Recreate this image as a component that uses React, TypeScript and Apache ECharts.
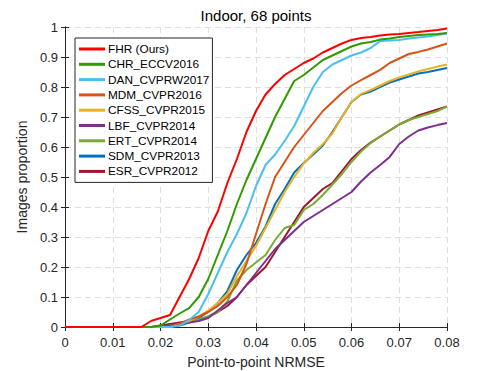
import React, { useEffect, useRef } from "react";
import * as echarts from "echarts";

const xValues = [0, 0.016, 0.018, 0.02, 0.022, 0.024, 0.026, 0.028, 0.03, 0.032, 0.034, 0.036, 0.038, 0.04, 0.042, 0.044, 0.046, 0.048, 0.05, 0.052, 0.054, 0.056, 0.058, 0.06, 0.062, 0.064, 0.066, 0.068, 0.07, 0.072, 0.074, 0.076, 0.078, 0.08];

const fhr = [0, 0, 0.02, 0.03, 0.04, 0.1, 0.16, 0.23, 0.32, 0.385, 0.48, 0.56, 0.65, 0.72, 0.775, 0.81, 0.84, 0.86, 0.88, 0.895, 0.915, 0.93, 0.945, 0.957, 0.963, 0.967, 0.972, 0.975, 0.977, 0.98, 0.983, 0.987, 0.99, 0.995];
const chr = [0, 0, 0, 0.005, 0.025, 0.045, 0.063, 0.1, 0.16, 0.24, 0.32, 0.41, 0.49, 0.56, 0.63, 0.7, 0.76, 0.82, 0.84, 0.865, 0.89, 0.905, 0.92, 0.935, 0.945, 0.95, 0.958, 0.962, 0.967, 0.97, 0.973, 0.975, 0.977, 0.98];
const dan = [0, 0, 0, 0, 0, 0.005, 0.023, 0.05, 0.11, 0.18, 0.25, 0.31, 0.38, 0.47, 0.54, 0.575, 0.62, 0.67, 0.735, 0.8, 0.85, 0.875, 0.89, 0.905, 0.915, 0.93, 0.953, 0.955, 0.957, 0.962, 0.965, 0.968, 0.973, 0.978];
const mdm = [0, 0, 0, 0, 0, 0.01, 0.025, 0.035, 0.05, 0.07, 0.1, 0.14, 0.21, 0.31, 0.41, 0.5, 0.55, 0.6, 0.64, 0.68, 0.72, 0.75, 0.78, 0.805, 0.823, 0.84, 0.857, 0.88, 0.895, 0.91, 0.917, 0.925, 0.935, 0.945];
const cfss = [0, 0, 0, 0, 0, 0.01, 0.02, 0.035, 0.055, 0.08, 0.11, 0.17, 0.22, 0.27, 0.33, 0.39, 0.45, 0.5, 0.545, 0.58, 0.61, 0.645, 0.7, 0.75, 0.777, 0.79, 0.805, 0.82, 0.832, 0.842, 0.852, 0.86, 0.868, 0.875];
const lbf = [0, 0, 0, 0, 0.005, 0.01, 0.015, 0.02, 0.03, 0.055, 0.08, 0.1, 0.14, 0.18, 0.22, 0.26, 0.29, 0.32, 0.35, 0.37, 0.39, 0.41, 0.43, 0.45, 0.485, 0.515, 0.54, 0.567, 0.61, 0.635, 0.655, 0.665, 0.673, 0.68];
const ert = [0, 0, 0, 0, 0.005, 0.01, 0.015, 0.025, 0.035, 0.05, 0.085, 0.155, 0.19, 0.215, 0.24, 0.29, 0.33, 0.34, 0.39, 0.41, 0.44, 0.475, 0.51, 0.55, 0.585, 0.613, 0.635, 0.655, 0.675, 0.69, 0.7, 0.71, 0.72, 0.735];
const sdm = [0, 0, 0, 0, 0, 0.005, 0.015, 0.03, 0.05, 0.08, 0.12, 0.19, 0.24, 0.28, 0.335, 0.41, 0.46, 0.515, 0.547, 0.575, 0.605, 0.65, 0.7, 0.75, 0.775, 0.785, 0.8, 0.815, 0.825, 0.835, 0.845, 0.85, 0.857, 0.863];
const esr = [0, 0, 0, 0.005, 0.01, 0.015, 0.02, 0.025, 0.035, 0.05, 0.07, 0.1, 0.14, 0.17, 0.2, 0.25, 0.3, 0.35, 0.4, 0.43, 0.46, 0.48, 0.52, 0.56, 0.59, 0.615, 0.635, 0.655, 0.675, 0.69, 0.705, 0.715, 0.725, 0.735];

const seriesNames = ["FHR (Ours)", "CHR_ECCV2016", "DAN_CVPRW2017", "MDM_CVPR2016", "CFSS_CVPR2015", "LBF_CVPR2014", "ERT_CVPR2014", "SDM_CVPR2013", "ESR_CVPR2012"];
const seriesValues = [fhr, chr, dan, mdm, cfss, lbf, ert, sdm, esr];
const seriesColors = ["#ff0000", "#339900", "#4dbeee", "#d95319", "#edb120", "#7e2f8e", "#77ac30", "#0072bd", "#a2142f"];

const xTicks = { min: 0, max: 0.08, interval: 0.01 };
const yTicks = { min: 0, max: 1, interval: 0.1 };

const titleText = "Indoor, 68 points";
const xName = "Point-to-point NRMSE";
const yName = "Images proportion";

const FONT = "'Liberation Sans', Arial, Helvetica, sans-serif";
const AX = "#262626";

export default function App() {
  const ref = useRef<HTMLDivElement>(null);
  useEffect(() => {
    if (!ref.current) return;
    const chart = echarts.init(ref.current, undefined, { renderer: "svg" });
    const grid = { left: 65, right: 47, top: 27, bottom: 44, containLabel: false, outerBoundsMode: "none" };
    const tickCommon = { show: true, inside: true, length: 4, lineStyle: { color: AX, width: 1 } };
    const lineCommon = { show: true, lineStyle: { color: AX, width: 1 } };
    const split = { show: true, lineStyle: { color: "#dedede", type: [6, 4] as any, width: 1 } };
    chart.setOption({
      animation: false,
      textStyle: { fontFamily: FONT },
      grid,
      graphic: [
        {
          type: "text",
          x: (grid.left + (494 - grid.right)) / 2,
          y: 8,
          style: { text: titleText, fontSize: 15, fontFamily: FONT, fill: "#000", textAlign: "center" },
        },
      ],
      legend: {
        orient: "vertical",
        left: 75,
        top: 38,
        padding: [4, 3, 4, 4],
        icon: "rect",
        itemWidth: 26,
        itemHeight: 3,
        itemGap: 1.3,
        backgroundColor: "#fff",
        borderColor: AX,
        borderWidth: 1,
        borderRadius: 0,
        textStyle: { fontSize: 11.8, lineHeight: 14, color: "#000", fontFamily: FONT, padding: [0, 0, 0, -2] },
        data: seriesNames,
      },
      xAxis: [
        {
          type: "value",
          ...xTicks,
          name: xName,
          nameLocation: "middle",
          nameGap: 28,
          nameTextStyle: { fontSize: 14, color: AX, fontFamily: FONT },
          axisLine: lineCommon,
          axisTick: tickCommon,
          axisLabel: { fontSize: 13, color: AX, margin: 9, fontFamily: FONT },
          splitLine: split,
        },
        {
          type: "value",
          position: "top",
          ...xTicks,
          axisLine: lineCommon,
          axisTick: tickCommon,
          axisLabel: { show: false },
          splitLine: { show: false },
        },
      ],
      yAxis: [
        {
          type: "value",
          ...yTicks,
          name: yName,
          nameLocation: "middle",
          nameGap: 20,
          nameTextStyle: { fontSize: 14, color: AX, fontFamily: FONT },
          axisLine: lineCommon,
          axisTick: tickCommon,
          axisLabel: { fontSize: 13, color: AX, margin: 7, fontFamily: FONT },
          splitLine: split,
        },
        {
          type: "value",
          position: "right",
          ...yTicks,
          axisLine: lineCommon,
          axisTick: tickCommon,
          axisLabel: { show: false },
          splitLine: { show: false },
        },
      ],
      series: seriesNames.map((name, i) => ({
        name,
        type: "line",
        xAxisIndex: 0,
        yAxisIndex: 0,
        symbol: "none",
        showSymbol: false,
        z: 20 - i,
        color: seriesColors[i],
        lineStyle: { color: seriesColors[i], width: 2 },
        data: xValues.map((x, j) => [x, seriesValues[i][j]]),
      })),
    });
    return () => chart.dispose();
  }, []);
  return (
    <div
      ref={ref}
      style={{ position: "fixed", left: 0, top: 0, width: 494, height: 371, background: "#fff" }}
    />
  );
}
